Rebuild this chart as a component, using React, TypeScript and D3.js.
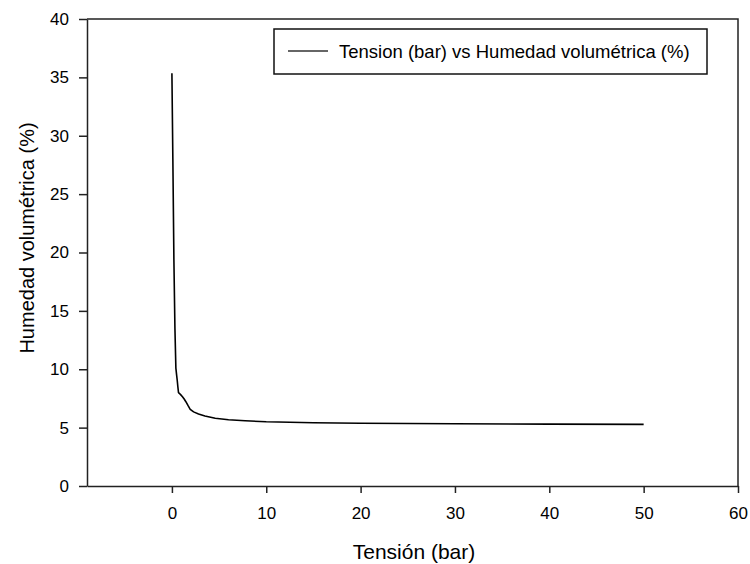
import * as d3 from 'd3'
import React, { useRef, useEffect } from 'react'

// Tension (bar) and volumetric moisture (%)
const tension = [0, 0.1, 0.21, 0.32, 0.42, 0.5, 0.56, 0.63, 0.7, 0.9, 1.12, 1.3, 1.48, 1.7, 1.94, 2.3, 2.82, 3.5, 4.59, 6, 7.76, 10, 15, 20, 30, 40, 50]
const humedad = [35.35, 28, 19.4, 13.5, 10.1, 9.5, 9.08, 8.5, 7.99, 7.85, 7.65, 7.45, 7.22, 6.9, 6.57, 6.35, 6.17, 6.0, 5.8, 5.68, 5.59, 5.5, 5.42, 5.37, 5.33, 5.3, 5.28]

const xTicks = [0, 10, 20, 30, 40, 50, 60]
const yTicks = [0, 5, 10, 15, 20, 25, 30, 35, 40]

const seriesName = 'Tension (bar) vs Humedad volumétrica (%)'
const xTitle = 'Tensión (bar)'
const yTitle = 'Humedad volumétrica (%)'

const FONT = '"Liberation Sans", Arial, sans-serif'

const App = () => {
  const ref = useRef<SVGSVGElement | null>(null)

  useEffect(() => {
    const svg = d3.select(ref.current)
    svg.selectAll('*').remove()

    const left = 87
    const right = 738
    const top = 19
    const bottom = 486

    const x = d3.scaleLinear().domain([-9, 60]).range([left, right])
    const y = d3.scaleLinear().domain([0, 40]).range([bottom, top])

    // frame (top and right sides)
    svg.append('path')
      .attr('d', `M${left},${top}H${right}V${bottom}`)
      .attr('fill', 'none')
      .attr('stroke', '#222')
      .attr('stroke-width', 1.5)

    // x axis
    const xAxis: any = d3.axisBottom(x).tickValues(xTicks).tickSize(7).tickPadding(14).tickSizeOuter(0)
    const gx = svg.append('g').attr('transform', `translate(0,${bottom})`).call(xAxis)
    gx.select('.domain').attr('stroke', '#222').attr('stroke-width', 1.5)
    gx.selectAll('.tick line').attr('stroke', '#222').attr('stroke-width', 1.5)
    gx.selectAll('.tick text')
      .attr('font-family', FONT)
      .attr('font-size', 17)
      .attr('fill', '#000')

    // y axis
    const yAxis: any = d3.axisLeft(y).tickValues(yTicks).tickSize(8).tickPadding(10).tickSizeOuter(0)
    const gy = svg.append('g').attr('transform', `translate(${left},0)`).call(yAxis)
    gy.select('.domain').attr('stroke', '#222').attr('stroke-width', 1.5)
    gy.selectAll('.tick line').attr('stroke', '#222').attr('stroke-width', 1.5)
    gy.selectAll('.tick text')
      .attr('font-family', FONT)
      .attr('font-size', 17)
      .attr('fill', '#000')

    // the curve
    const line: any = d3.line<number>()
      .x((d, i) => x(tension[i]))
      .y(d => y(d))
    svg.append('path')
      .datum(humedad)
      .attr('d', line)
      .attr('fill', 'none')
      .attr('stroke', '#000')
      .attr('stroke-width', 1.6)
      .attr('stroke-linejoin', 'round')

    // axis titles
    svg.append('text')
      .attr('x', 414)
      .attr('y', 559)
      .attr('text-anchor', 'middle')
      .attr('font-family', FONT)
      .attr('font-size', 21)
      .text(xTitle)

    svg.append('text')
      .attr('transform', `translate(34,238) rotate(-90)`)
      .attr('text-anchor', 'middle')
      .attr('font-family', FONT)
      .attr('font-size', 20)
      .text(yTitle)

    // legend
    const legend = svg.append('g')
    legend.append('rect')
      .attr('x', 274)
      .attr('y', 29)
      .attr('width', 433)
      .attr('height', 45)
      .attr('fill', '#fff')
      .attr('stroke', '#111')
      .attr('stroke-width', 1.5)
    legend.append('line')
      .attr('x1', 288)
      .attr('x2', 328)
      .attr('y1', 51)
      .attr('y2', 51)
      .attr('stroke', '#333')
      .attr('stroke-width', 1.5)
    legend.append('text')
      .attr('x', 339)
      .attr('y', 57.5)
      .attr('font-family', FONT)
      .attr('font-size', 18.5)
      .text(seriesName)
  }, [])

  return (
    <svg ref={ref} width={750} height={564} style={{ position: 'absolute', left: 0, top: 0, background: '#fff' }} />
  )
}

export default App
